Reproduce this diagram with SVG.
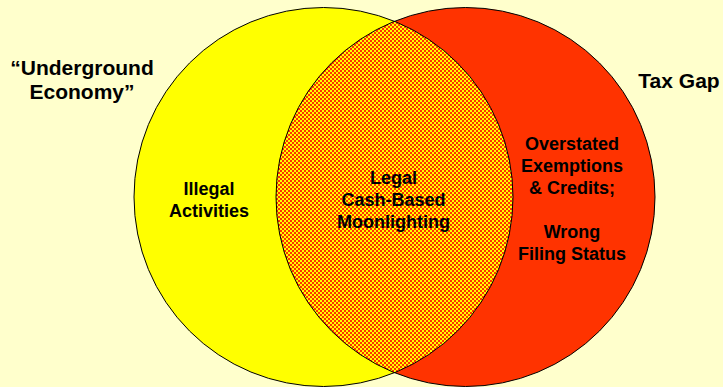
<svg xmlns="http://www.w3.org/2000/svg" width="723" height="387" viewBox="0 0 723 387">
  <style>
    .lbl { font-family: "Liberation Sans", Arial, sans-serif; font-weight: bold; fill: #000; text-anchor: middle; }
    .big { font-size: 21px; }
    .sm { font-size: 18px; }
    .outline { fill: none; stroke: #000; stroke-width: 1; }
  </style>
  <defs>
    <pattern id="checker" x="0" y="0" width="4" height="4" patternUnits="userSpaceOnUse">
      <rect x="0" y="0" width="4" height="4" fill="#FF3300"/>
      <rect x="0" y="0" width="2" height="2" fill="#FFFF00"/>
      <rect x="2" y="2" width="2" height="2" fill="#FFFF00"/>
    </pattern>
    <clipPath id="leftClip">
      <circle cx="323.5" cy="197" r="189.5"/>
    </clipPath>
  </defs>
  <rect x="0" y="0" width="723" height="387" fill="#FFFFCC"/>

  <g id="underground-economy">
    <circle cx="323.5" cy="197" r="189.5" fill="#FFFF00"/>
  </g>
  <g id="tax-gap">
    <circle cx="465.5" cy="197" r="189.5" fill="#FF3300"/>
  </g>
  <g id="overlap">
    <circle cx="465.5" cy="197" r="189.5" fill="url(#checker)" clip-path="url(#leftClip)"/>
  </g>
  <g id="outlines">
    <circle class="outline" cx="323.5" cy="197" r="189.5"/>
    <circle class="outline" cx="465.5" cy="197" r="189.5"/>
  </g>

  <g id="label-underground">
    <text class="lbl big" x="82" y="75">“Underground</text>
    <text class="lbl big" x="82" y="99">Economy”</text>
  </g>
  <g id="label-taxgap">
    <text class="lbl big" x="679" y="88">Tax Gap</text>
  </g>
  <g id="label-illegal">
    <text class="lbl sm" x="209" y="195">Illegal</text>
    <text class="lbl sm" x="209" y="217">Activities</text>
  </g>
  <g id="label-legal">
    <text class="lbl sm" x="393.5" y="184">Legal</text>
    <text class="lbl sm" x="393.5" y="206">Cash-Based</text>
    <text class="lbl sm" x="393.5" y="228">Moonlighting</text>
  </g>
  <g id="label-overstated">
    <text class="lbl sm" x="572" y="150">Overstated</text>
    <text class="lbl sm" x="572" y="172">Exemptions</text>
    <text class="lbl sm" x="572" y="194">&amp; Credits;</text>
    <text class="lbl sm" x="572" y="238">Wrong</text>
    <text class="lbl sm" x="572" y="260">Filing Status</text>
  </g>
</svg>
